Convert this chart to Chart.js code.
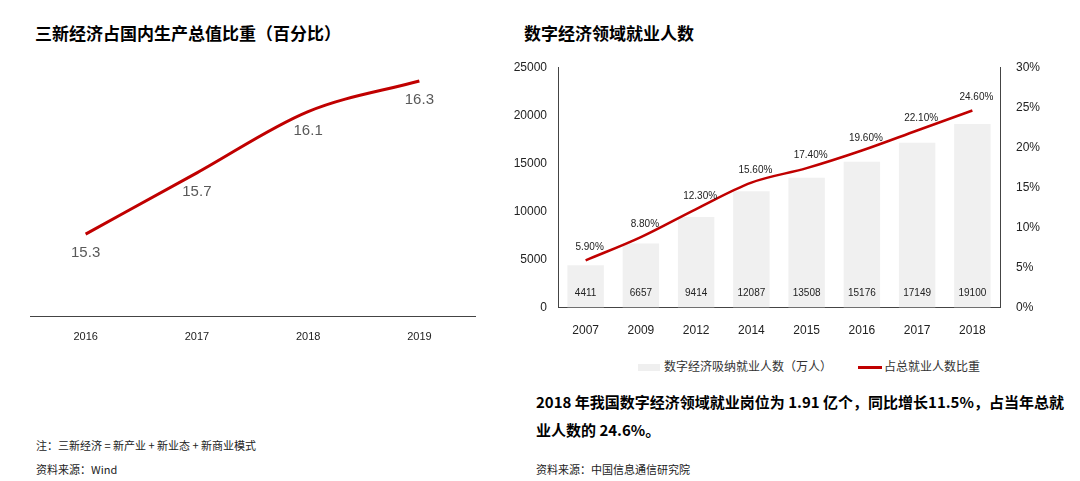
<!DOCTYPE html>
<html><head><meta charset="utf-8">
<script src="https://cdn.jsdelivr.net/npm/chart.js@4"></script>
<style>
body{margin:0;width:1080px;height:481px;background:#fff;font-family:"Noto Sans CJK SC","Noto Sans",sans-serif;position:relative;overflow:hidden}
.t{position:absolute;white-space:nowrap;color:#000}
canvas{position:absolute}
</style></head><body>
<div class="t" style="left:35px;top:20px;font-size:17px;font-weight:bold">三新经济占国内生产总值比重（百分比）</div>
<div class="t" style="left:524px;top:20px;font-size:17px;font-weight:bold">数字经济领域就业人数</div>
<div class="t" style="left:36px;top:437px;font-size:11px;color:#222">注：三新经济 = 新产业 + 新业态 + 新商业模式</div>
<div class="t" style="left:36px;top:461px;font-size:11px;color:#222">资料来源：Wind</div>
<div class="t" style="left:536px;top:461px;font-size:11px;color:#222">资料来源：中国信息通信研究院</div>
<div class="t" style="left:536px;top:388px;font-size:15px;font-weight:bold;line-height:28px">2018 年我国数字经济领域就业岗位为 1.91 亿个，同比增长11.5%，占当年总就<br>业人数的 24.6%。</div>
<div class="t" style="left:638px;top:357px;font-size:12px;color:#333"><span style="display:inline-block;width:22px;height:7px;background:#efefef;vertical-align:middle;margin-right:4px"></span>数字经济吸纳就业人数（万人）</div>
<div class="t" style="left:858px;top:357px;font-size:12px;color:#333"><span style="display:inline-block;width:24px;height:3px;background:#c00000;vertical-align:middle;margin-right:2px"></span>占总就业人数比重</div>
<canvas id="c1" style="left:30px;top:58px;width:450px;height:292px"></canvas>
<canvas id="c2" style="left:510px;top:52px;width:540px;height:298px"></canvas>
<script>
var years1 = ['2016','2017','2018','2019'];
var share1 = [15.3, 15.7, 16.1, 16.3];
var years2 = ['2007','2009','2012','2014','2015','2016','2017','2018'];
var jobs2 = [4411, 6657, 9414, 12087, 13508, 15176, 17149, 19100];
var ratio2 = [5.9, 8.8, 12.3, 15.6, 17.4, 19.6, 22.1, 24.6];

var labelPlugin = {
  id: 'labels',
  afterDatasetsDraw: function(chart) {
    var ctx = chart.ctx;
    chart.data.datasets.forEach(function(ds, i) {
      if (!ds.lbl) return;
      var meta = chart.getDatasetMeta(i);
      meta.data.forEach(function(el, j) {
        ctx.save();
        ctx.fillStyle = ds.lbl.color;
        ctx.font = ds.lbl.font;
        ctx.textAlign = 'center';
        var txt = ds.lbl.fmt(ds.data[j]);
        var y;
        if (ds.lbl.pos === 'base') y = chart.scales.y.bottom - 12;
        else y = el.y + ds.lbl.dy;
        ctx.fillText(txt, el.x + (ds.lbl.dx || 0), y);
        ctx.restore();
      });
    });
  }
};

new Chart(document.getElementById('c1'), {
  type: 'line',
  data: { labels: years1, datasets: [{
    data: share1, borderColor: '#c00000', borderWidth: 3, pointRadius: 0, cubicInterpolationMode: 'monotone',
    lbl: { color: '#595959', font: '15px "Liberation Sans",Arial', dy: 23, fmt: function(v){return v.toFixed(1);} }
  }]},
  options: {
    responsive: false, animation: false, layout: { padding: { left: 0, right: 5 } },
    plugins: { legend: { display: false }, tooltip: { enabled: false } },
    scales: {
      x: { offset: true, grid: { display: false }, border: { color: '#444' },
           ticks: { color: '#222', font: { size: 11, family: '"Liberation Sans",Arial' }, padding: 6 } },
      y: { display: false, min: 14.76, max: 16.45 }
    }
  },
  plugins: [labelPlugin]
});

new Chart(document.getElementById('c2'), {
  data: { labels: years2, datasets: [
    { type: 'line', data: ratio2, yAxisID: 'y1', borderColor: '#c00000', borderWidth: 2.5, pointRadius: 0, cubicInterpolationMode: 'monotone', order: 0,
      lbl: { color: '#222', font: '10px "Liberation Sans",Arial', dy: -10, dx: 4, fmt: function(v){return v.toFixed(2)+'%';} } },
    { type: 'bar', data: jobs2, yAxisID: 'y', backgroundColor: '#f0f0f0', categoryPercentage: 0.66, barPercentage: 1, order: 1,
      lbl: { color: '#222', font: '10px "Liberation Sans",Arial', pos: 'base', fmt: function(v){return String(v);} } }
  ]},
  options: {
    responsive: false, animation: false, layout: { padding: { top: 10, bottom: 4 } },
    plugins: { legend: { display: false }, tooltip: { enabled: false } },
    scales: {
      x: { grid: { display: false }, border: { color: '#444' },
           ticks: { color: '#222', padding: 8, font: { size: 12, family: '"Liberation Sans",Arial' } } },
      y: { min: 0, max: 25000, grid: { display: false }, border: { color: '#444' }, afterFit: function(s){ s.width = 48; },
           ticks: { stepSize: 5000, color: '#222', font: { size: 12, family: '"Liberation Sans",Arial' }, callback: function(v){return String(v);} } },
      y1: { position: 'right', min: 0, max: 30, grid: { display: false }, border: { color: '#444' }, afterFit: function(s){ s.width = 50; },
           ticks: { stepSize: 5, color: '#222', padding: 8, font: { size: 12, family: '"Liberation Sans",Arial' }, callback: function(v){return v+'%';} } }
    }
  },
  plugins: [labelPlugin]
});
</script>
</body></html>
